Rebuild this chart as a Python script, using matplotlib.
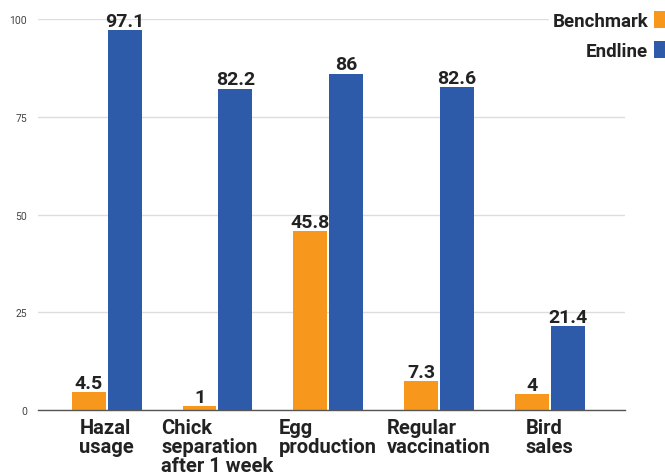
import matplotlib.pyplot as plt
import numpy as np

categories = ['Hazal\nusage', 'Chick\nseparation\nafter 1 week', 'Egg\nproduction',
              'Regular\nvaccination', 'Bird\nsales']
benchmark = [4.5, 1, 45.8, 7.3, 4]
endline = [97.1, 82.2, 86, 82.6, 21.4]
benchmark_labels = ['4.5', '1', '45.8', '7.3', '4']
endline_labels = ['97.1', '82.2', '86', '82.6', '21.4']

ORANGE = '#F7981D'
BLUE = '#2E5AAA'

plt.rcParams['font.family'] = ['Roboto', 'DejaVu Sans']

fig = plt.figure(figsize=(6.65, 4.77), dpi=100)
ax = fig.add_axes([38 / 665, 66 / 477, 587 / 665, 391 / 477])

x = np.arange(len(categories))
w = 0.306
gap = 0.009
b1 = ax.bar(x - w / 2 - gap, benchmark, w, color=ORANGE, label='Benchmark', zorder=3)
b2 = ax.bar(x + w / 2 + gap, endline, w, color=BLUE, label='Endline', zorder=3)

# value labels on top of the bars
for rect, lab in zip(b1, benchmark_labels):
    ax.text(rect.get_x() + rect.get_width() / 2, rect.get_height() + 0.1, lab,
            ha='center', va='bottom', fontsize=14, fontweight='bold',
            color='#222222', clip_on=False, zorder=4)
for rect, lab in zip(b2, endline_labels):
    ax.text(rect.get_x() + rect.get_width() / 2, rect.get_height() + 0.1, lab,
            ha='center', va='bottom', fontsize=14, fontweight='bold',
            color='#222222', clip_on=False, zorder=4)

ax.set_xlim(-0.62, 4.68)
ax.set_ylim(0, 100)
ax.set_yticks([0, 25, 50, 75, 100])
ax.tick_params(axis='y', length=0, labelsize=7.5, labelcolor='#444444', pad=8)
ax.set_xticks(x)
ax.set_xticklabels(categories, fontsize=14.5, fontweight='bold', color='#222222',
                   multialignment='left', va='top', linespacing=1.0)
ax.tick_params(axis='x', length=0, pad=6)

ax.grid(axis='y', color='#dddddd', linewidth=1, zorder=0)
for s in ['top', 'right', 'left']:
    ax.spines[s].set_visible(False)
ax.spines['bottom'].set_color('#555555')
ax.spines['bottom'].set_linewidth(1)
ax.spines['bottom'].set_zorder(4)

leg = ax.legend(loc='upper right', bbox_to_anchor=(682 / 665, 1 + 1 / 477),
                bbox_transform=fig.transFigure, markerfirst=False, frameon=True,
                fancybox=False, edgecolor='white', facecolor='white', framealpha=1,
                handlelength=0.8, handleheight=1.0, handletextpad=0.3,
                labelspacing=0.6, borderpad=0.2, prop={'weight': 'bold', 'size': 13.5})
for t in leg.get_texts():
    t.set_ha('right')
    t.set_color('#222222')
leg._legend_box.align = 'right'

fig.savefig('out.png', dpi=100)
